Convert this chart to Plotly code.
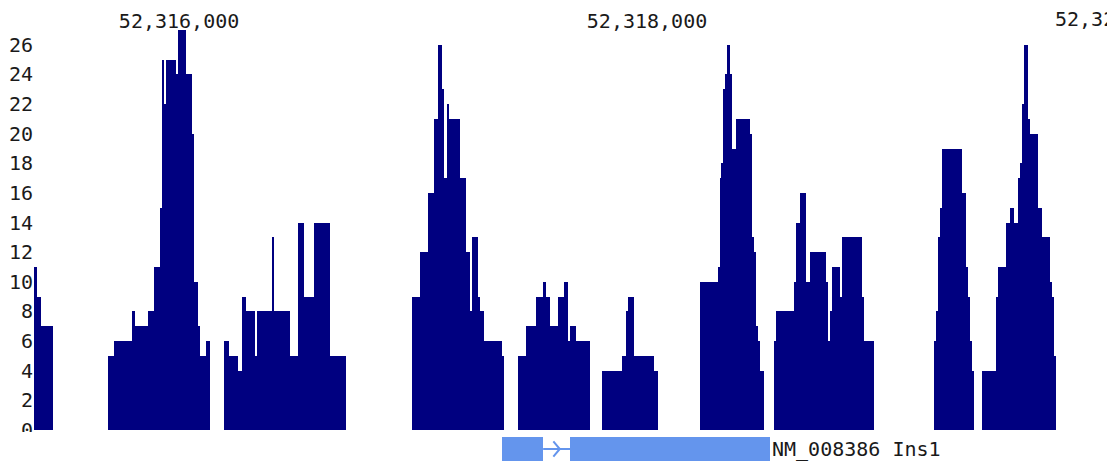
import plotly.graph_objects as go

# ---------------- data ----------------
# coverage islands: step edges (genomic bp) and depth of each step
island_edges = [
    [52315380, 52315393, 52315410, 52315462],
    [52315697, 52315722, 52315799, 52315812, 52315868, 52315893, 52315919, 52315927,
     52315936, 52315944, 52315987, 52315996, 52316030, 52316056, 52316064, 52316081,
     52316090, 52316115, 52316132],
    [52316192, 52316214, 52316252, 52316269, 52316286, 52316325, 52316335, 52316399,
     52316405, 52316474, 52316509, 52316534, 52316577, 52316645, 52316714],
    [52316996, 52317030, 52317064, 52317090, 52317107, 52317124, 52317132, 52317145,
     52317154, 52317201, 52317226, 52317244, 52317252, 52317278, 52317286, 52317303,
     52317380, 52317389],
    [52317449, 52317483, 52317526, 52317556, 52317568, 52317586, 52317620, 52317645,
     52317662, 52317671, 52317697, 52317756],
    [52317808, 52317893, 52317910, 52317919, 52317944, 52318030, 52318047],
    [52318226, 52318303, 52318312, 52318320, 52318325, 52318333, 52318342, 52318355,
     52318365, 52318380, 52318440, 52318449, 52318457, 52318466, 52318474, 52318483,
     52318500],
    [52318543, 52318551, 52318628, 52318637, 52318654, 52318679, 52318697, 52318765,
     52318773, 52318782, 52318791, 52318825, 52318833, 52318919, 52318927, 52318970],
    [52319226, 52319235, 52319244, 52319252, 52319261, 52319346, 52319363, 52319372,
     52319380, 52319389, 52319397],
    [52319432, 52319491, 52319500, 52319534, 52319551, 52319568, 52319586, 52319594,
     52319603, 52319611, 52319628, 52319637, 52319671, 52319688, 52319722, 52319731,
     52319739, 52319748],
]
island_depths = [
    [11, 9, 7],
    [5, 6, 8, 7, 8, 11, 15, 25, 22, 25, 24, 27, 24, 20, 10, 7, 5, 6],
    [6, 5, 4, 9, 8, 5, 8, 13, 8, 5, 14, 9, 14, 5],
    [9, 12, 16, 21, 26, 23, 17, 22, 21, 17, 12, 8, 13, 9, 8, 6, 5],
    [5, 7, 9, 10, 9, 7, 9, 10, 6, 7, 6],
    [4, 5, 8, 9, 5, 4],
    [10, 11, 17, 18, 23, 24, 26, 24, 19, 21, 20, 13, 12, 7, 6, 4],
    [6, 8, 10, 14, 16, 10, 12, 10, 6, 8, 11, 9, 13, 9, 6],
    [6, 8, 13, 15, 19, 16, 11, 9, 6, 4],
    [4, 9, 11, 14, 15, 14, 17, 18, 22, 26, 21, 20, 15, 13, 10, 9, 5],
]

# gene model (NM_008386 Ins1), + strand
exon_starts = [52317380, 52317671]
exon_ends = [52317556, 52318526]
gene_label = "NM_008386 Ins1"

view_start = 52315380
view_end = 52319966
x_tick_vals = [52316000, 52318000, 52320000]
y_tick_vals = list(range(0, 27, 2))
y_max = 27

# ---------------- styles ----------------
NAVY = "#000080"
GENE = "#6495ED"
TXT = "#1a1a1a"
FONT = "DejaVu Sans Mono"
FS = 20

# ---------------- build ----------------
starts, widths, depths = [], [], []
for edges, dep in zip(island_edges, island_depths):
    for i, d in enumerate(dep):
        starts.append(edges[i])
        widths.append(edges[i + 1] - edges[i])
        depths.append(d)

fig = go.Figure()
fig.add_trace(go.Bar(
    x=starts, y=depths, width=widths, offset=0,
    marker=dict(color=NAVY, line=dict(width=0)),
    xaxis="x", yaxis="y", hoverinfo="skip", showlegend=False,
))

# exons
fig.add_trace(go.Bar(
    x=exon_starts, y=[1] * len(exon_starts),
    width=[e - s for s, e in zip(exon_starts, exon_ends)], offset=0,
    marker=dict(color=GENE, line=dict(width=0)),
    xaxis="x", yaxis="y2", hoverinfo="skip", showlegend=False,
))
# intron line
fig.add_trace(go.Scatter(
    x=[exon_ends[0], exon_starts[1]], y=[0.5, 0.5], mode="lines",
    line=dict(color=GENE, width=2), xaxis="x", yaxis="y2",
    hoverinfo="skip", showlegend=False,
))
# strand chevron in intron middle
mid = (exon_ends[0] + exon_starts[1]) / 2
span = (exon_starts[1] - exon_ends[0]) * 0.12
fig.add_trace(go.Scatter(
    x=[mid - span, mid + span, mid - span], y=[0.82, 0.5, 0.18], mode="lines",
    line=dict(color=GENE, width=2), xaxis="x", yaxis="y2",
    hoverinfo="skip", showlegend=False,
))

W, H = 1107, 464
ML, MR, MT, MB = 34, 0, 30, 0
plot_h = H - MT - MB
main_bottom = 34 / plot_h
LABEL_DROP = 3

fig.update_layout(
    template="none",
    width=W, height=H,
    margin=dict(l=ML, r=MR, t=MT, b=MB, pad=0, autoexpand=False),
    paper_bgcolor="white", plot_bgcolor="white",
    bargap=0, barmode="overlay",
    font=dict(family=FONT, size=FS, color=TXT),
    xaxis=dict(
        range=[view_start, view_end], side="top", anchor="y", automargin=False,
        tickvals=x_tick_vals[:2], ticktext=[f"{v:,}" for v in x_tick_vals[:2]],
        showgrid=False, zeroline=False, showline=False, ticks="",
        ticklabelstandoff=-LABEL_DROP,
        tickfont=dict(family=FONT, size=FS, color=TXT),
    ),
    yaxis=dict(
        domain=[main_bottom, 1], range=[0, y_max], automargin=False,
        tickvals=y_tick_vals, ticktext=[str(v) for v in y_tick_vals],
        showgrid=False, zeroline=False, showline=False, ticks="",
        tickfont=dict(family=FONT, size=FS, color=TXT),
    ),
    yaxis2=dict(
        domain=[3 / plot_h, 27 / plot_h], range=[0, 1], automargin=False,
        showgrid=False, zeroline=False, showline=False, showticklabels=False,
    ),
)

# third coordinate label, beyond the right edge (clipped like the reference)
third = x_tick_vals[2]
fig.add_annotation(
    x=(third - view_start) / (view_end - view_start), xref="paper",
    y=1, yref="paper", yanchor="bottom", xanchor="center", yshift=-LABEL_DROP,
    text=f"{third:,}", showarrow=False,
    font=dict(family=FONT, size=FS, color=TXT),
)

# gene name label
fig.add_annotation(
    x=exon_ends[1], xref="x", y=0.5, yref="y2",
    xanchor="left", yanchor="middle", text=gene_label, showarrow=False,
    font=dict(family=FONT, size=FS, color=TXT), xshift=0,
)

# mask lower half of the "0" depth label (clipped in the reference)
fig.add_shape(
    type="rect", xref="paper", yref="paper",
    x0=-ML / (W - ML - MR), x1=-0.0005,
    y0=0, y1=(main_bottom * plot_h - 2) / plot_h,
    fillcolor="white", line=dict(width=0), layer="above",
)

fig.write_html("out.html")
